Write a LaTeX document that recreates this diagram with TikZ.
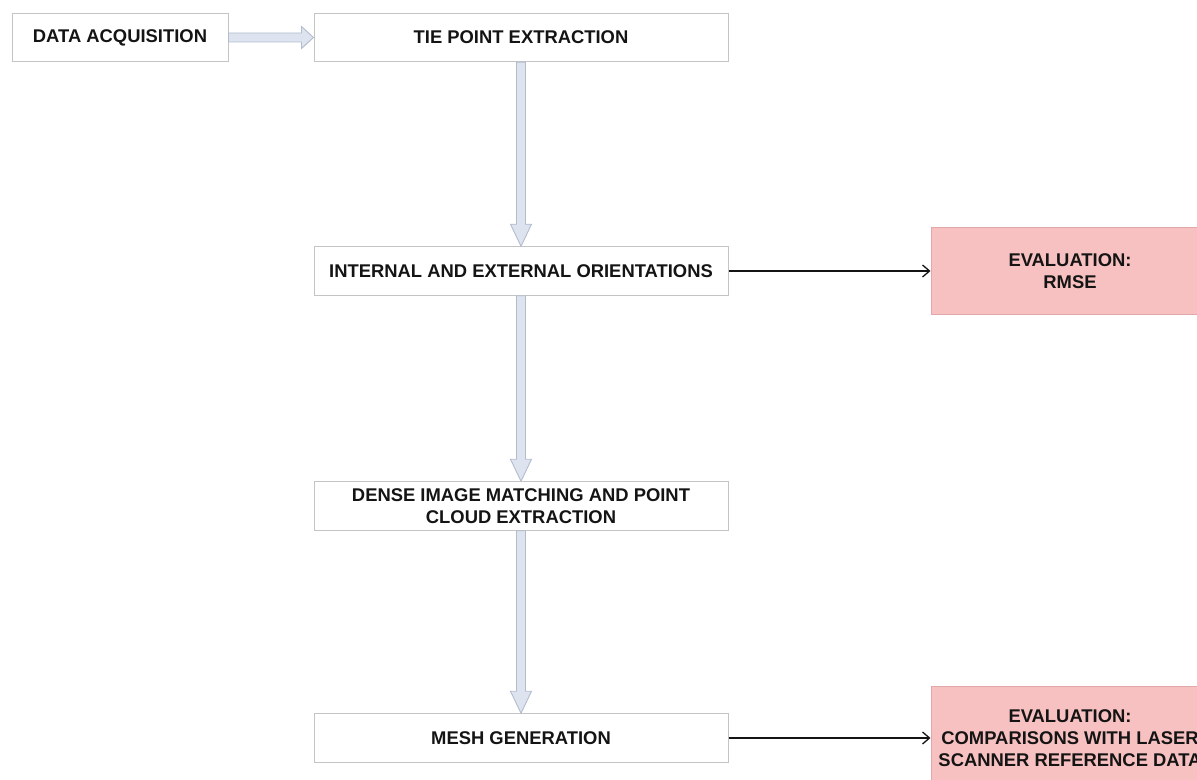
\documentclass[tikz,border=0pt]{standalone}
\usepackage{fontspec}
\setmainfont{Liberation Sans}
\usetikzlibrary{arrows.meta,calc}
\definecolor{boxline}{HTML}{C4C4C4}
\definecolor{flowfill}{HTML}{DDE4F0}
\definecolor{flowline}{HTML}{B3BCCC}
\definecolor{evalfill}{HTML}{F8C1C1}
\definecolor{evalline}{HTML}{E0A8A8}
\definecolor{ink}{HTML}{141414}
\tikzset{
  stepbox/.style={draw=boxline, line width=0.5pt, fill=white, inner sep=0pt,
    minimum height=24.25pt, align=center, text=ink,
    font=\fontsize{9.2}{11}\selectfont\bfseries},
  evalbox/.style={stepbox, draw=evalline, fill=evalfill, minimum width=139pt},
  flowarrow/.style={draw=flowline, fill=flowfill, line width=0.45pt, line join=miter},
  link/.style={draw=ink, line width=0.65pt, -{Straight Barb[length=3.5pt,width=6pt]}}
}
\begin{document}
\begin{tikzpicture}[x=0.5pt,y=-0.5pt]
  \useasboundingbox (0,0) rectangle (1197,780);
  \clip (0,0) rectangle (1197,780);

  % process chain
  \node[stepbox, minimum width=108pt] (data) at (120,37.5) {DATA ACQUISITION};
  \node[stepbox, minimum width=207pt] (tie) at (521,37.5) {TIE POINT EXTRACTION};
  \node[stepbox, minimum width=207pt] (orient) at (521,271) {INTERNAL AND EXTERNAL ORIENTATIONS};
  \node[stepbox, minimum width=207pt] (dense) at (521,506) {DENSE IMAGE MATCHING AND POINT\\CLOUD EXTRACTION};
  \node[stepbox, minimum width=207pt] (mesh) at (521,738) {MESH GENERATION};

  % evaluation boxes
  \node[evalbox, minimum height=43pt] (rmse) at (1070,271) {EVALUATION:\\RMSE};
  \node[evalbox, minimum height=52pt] (laser) at (1070,738)
    {EVALUATION:\\COMPARISONS WITH LASER\\SCANNER REFERENCE DATA};

  % hollow block arrow, horizontal
  \path[flowarrow] let \p1=(data.east), \p2=(tie.west) in
    (\x1,\y1+2.25pt) -- (\x2-6pt,\y1+2.25pt) -- (\x2-6pt,\y1+5.5pt) -- (\x2,\y1)
    -- (\x2-6pt,\y1-5.5pt) -- (\x2-6pt,\y1-2.25pt) -- (\x1,\y1-2.25pt) -- cycle;

  % hollow block arrows, vertical
  \foreach \a/\b in {tie/orient, orient/dense, dense/mesh}{
    \path[flowarrow] let \p1=(\a.south), \p2=(\b.north) in
      (\x1-2.25pt,\y1) -- (\x1-2.25pt,\y2+11pt) -- (\x1-5.25pt,\y2+11pt) -- (\x1,\y2)
      -- (\x1+5.25pt,\y2+11pt) -- (\x1+2.25pt,\y2+11pt) -- (\x1+2.25pt,\y1) -- cycle;
  }

  % links to evaluation
  \draw[link] (orient.east) -- (rmse.west |- orient.east);
  \draw[link] (mesh.east) -- (laser.west |- mesh.east);
\end{tikzpicture}
\end{document}
